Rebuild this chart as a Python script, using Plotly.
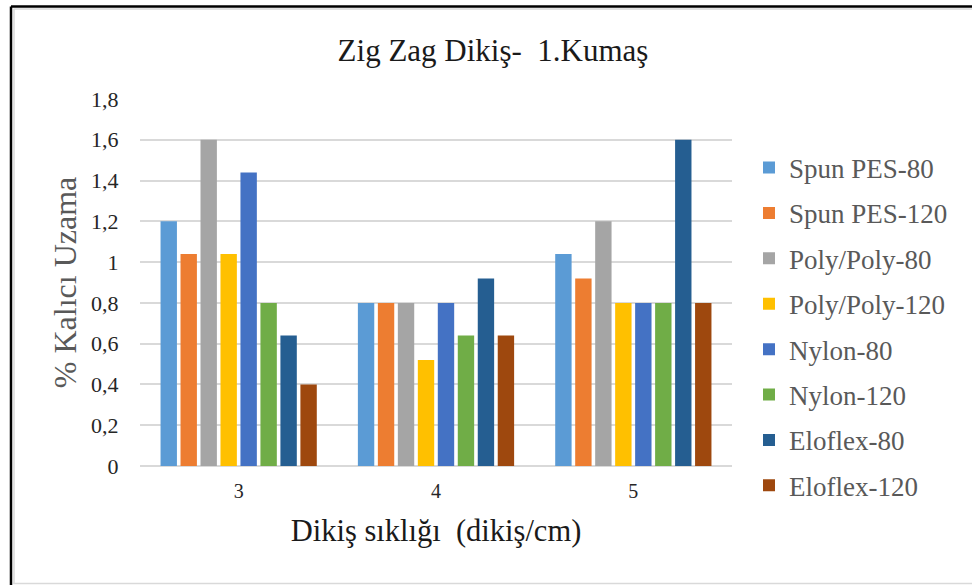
import plotly.graph_objects as go

categories = ["3", "4", "5"]
series_names = ["Spun PES-80", "Spun PES-120", "Poly/Poly-80", "Poly/Poly-120",
                "Nylon-80", "Nylon-120", "Eloflex-80", "Eloflex-120"]
spun_pes_80 = [1.2, 0.8, 1.04]
spun_pes_120 = [1.04, 0.8, 0.92]
poly_poly_80 = [1.6, 0.8, 1.2]
poly_poly_120 = [1.04, 0.52, 0.8]
nylon_80 = [1.44, 0.8, 0.8]
nylon_120 = [0.8, 0.64, 0.8]
eloflex_80 = [0.64, 0.92, 1.6]
eloflex_120 = [0.4, 0.64, 0.8]
series_values = [spun_pes_80, spun_pes_120, poly_poly_80, poly_poly_120,
                 nylon_80, nylon_120, eloflex_80, eloflex_120]
colors = ["#5B9BD5", "#ED7D31", "#A5A5A5", "#FFC000",
          "#4472C4", "#70AD47", "#255E91", "#9E480E"]
y_tickvals = [0, 0.2, 0.4, 0.6, 0.8, 1.0, 1.2, 1.4, 1.6, 1.8]
y_ticktext = ["0", "0,2", "0,4", "0,6", "0,8", "1", "1,2", "1,4", "1,6", "1,8"]

FONT = "Liberation Serif"
W, H = 972, 585
L, R, T, B = 140, 240, 99, 119
pw, ph = W - L - R, H - T - B

def px(x):
    return (x - L) / pw

def py(y):
    return (H - B - y) / ph

fig = go.Figure()
for name, vals, col in zip(series_names, series_values, colors):
    fig.add_trace(go.Bar(x=categories, y=vals, name=name, marker_color=col,
                         marker_line_width=0, legendgroup=name))

shapes = [
    dict(type="line", xref="paper", yref="paper", x0=px(11), x1=px(972), y0=py(6.5), y1=py(6.5),
         line=dict(color="black", width=2.5)),
    dict(type="line", xref="paper", yref="paper", x0=px(11), x1=px(11), y0=py(6.5), y1=py(585),
         line=dict(color="black", width=2.5)),
    dict(type="line", xref="paper", yref="paper", x0=px(13.5), x1=px(972), y0=py(9), y1=py(9),
         line=dict(color="#D9D9D9", width=1.5)),
    dict(type="line", xref="paper", yref="paper", x0=px(14), x1=px(14), y0=py(9), y1=py(584),
         line=dict(color="#D9D9D9", width=1.5)),
    dict(type="line", xref="paper", yref="paper", x0=px(13.5), x1=px(972), y0=py(583.5), y1=py(583.5),
         line=dict(color="#D9D9D9", width=1.5)),
]

fig.update_layout(
    width=W, height=H,
    margin=dict(l=L, r=R, t=T, b=B, autoexpand=False),
    paper_bgcolor="white", plot_bgcolor="white",
    font=dict(family=FONT, color="#404040"),
    title=dict(text="Zig Zag Dikiş-\u00a0 1.Kumaş", x=(493 - L) / pw, xref="paper",
               xanchor="center", y=1 - 50 / H, yanchor="middle",
               font=dict(family=FONT, size=31, color="#1a1a1a")),
    barmode="group", bargap=0.19, bargroupgap=0.18,
    showlegend=True,
    legend=dict(x=px(749), xanchor="left", y=py(143.5), yanchor="top",
                font=dict(family=FONT, size=27, color="#595959"),
                traceorder="grouped", tracegroupgap=7.3, itemwidth=30,
                maxheight=560,
                bgcolor="rgba(0,0,0,0)"),
    shapes=shapes,
)
fig.update_xaxes(
    type="category", showgrid=False, showline=False, zeroline=False,
    ticks="outside", ticklen=7, tickcolor="rgba(0,0,0,0)",
    tickfont=dict(family=FONT, size=20, color="#262626"),
    title=dict(text="Dikiş sıklığı\u00a0 (dikiş/cm)", standoff=18,
               font=dict(family=FONT, size=30.5, color="#1a1a1a")),
    automargin=False,
)
fig.update_yaxes(
    range=[0, 1.8], tickvals=y_tickvals, ticktext=y_ticktext,
    showgrid=True, gridcolor="#D9D9D9", gridwidth=1.5,
    zeroline=True, zerolinecolor="#D9D9D9", zerolinewidth=1.5,
    showline=False,
    ticks="outside", ticklen=16, tickcolor="rgba(0,0,0,0)",
    tickfont=dict(family=FONT, size=22, color="#262626"),
    title=dict(text="% Kalıcı Uzama", standoff=4,
               font=dict(family=FONT, size=32, color="#595959")),
    automargin=False,
)

fig.write_html("out.html")
